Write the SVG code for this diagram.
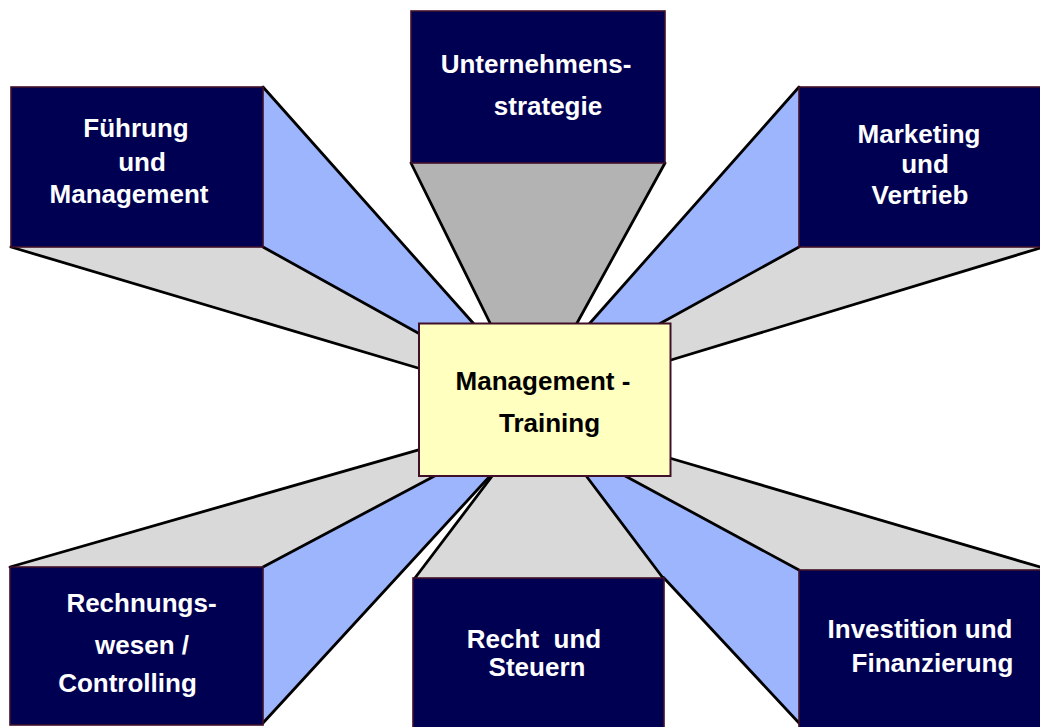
<svg xmlns="http://www.w3.org/2000/svg" width="1040" height="727" viewBox="0 0 1040 727">
<style>
.box{fill:#000052;stroke:#40102a;stroke-width:1.6}
.ctr{fill:#ffffc0;stroke:#40102a;stroke-width:2}
.blue{fill:#9db5fc}
.lg{fill:#d9d9d9}
.dg{fill:#b3b3b3}
.ln{stroke:#000;stroke-width:2.8;fill:none;stroke-linecap:round}
text{font-family:"Liberation Sans",Arial,sans-serif;font-weight:bold;font-size:26px;text-anchor:middle;white-space:pre}
.w{fill:#fff}
.k{fill:#000}
</style>
<rect width="1040" height="727" fill="#fff"/>
<g id="connectors">
  <polygon class="blue" points="263,87 476.6,327 423,335.8 263,247"/>
  <polygon class="lg" points="11,247 263,247 423,335.8 423,369.5"/>
  <polygon class="dg" points="411,163 665,163 574.3,328 492.5,328"/>
  <polygon class="blue" points="799,87 799,247 651.9,328 585.6,328"/>
  <polygon class="lg" points="799,247 1040,247 1040,248 666,361.5 651.9,328"/>
  <polygon class="lg" points="10,567 263,567 444,471 423,448.6"/>
  <polygon class="blue" points="263,567 263,723 494.6,471 444,471"/>
  <polygon class="lg" points="799,570 1040,570 1040,567 666,457 616,471"/>
  <polygon class="blue" points="799,570 799,723 565,471 616,471"/>
  <polygon class="lg" points="413,578 664,578 582.5,471 496,471"/>
  <g class="ln">
    <line x1="263" y1="87" x2="476.6" y2="327"/>
    <line x1="263" y1="247" x2="423" y2="335.8"/>
    <line x1="11" y1="247" x2="423" y2="369.5"/>
    <line x1="411" y1="163" x2="492.5" y2="328"/>
    <line x1="665" y1="163" x2="574.3" y2="328"/>
    <line x1="799" y1="87" x2="585.6" y2="328"/>
    <line x1="799" y1="247" x2="651.9" y2="328"/>
    <line x1="1040" y1="248" x2="666" y2="361.5"/>
    <line x1="10" y1="567" x2="423" y2="448.6"/>
    <line x1="263" y1="567" x2="444" y2="471"/>
    <line x1="263" y1="723" x2="494.6" y2="471"/>
    <line x1="415" y1="578" x2="496" y2="471"/>
    <line x1="663" y1="578" x2="582.5" y2="471"/>
    <line x1="799" y1="570" x2="616" y2="471"/>
    <line x1="1040" y1="567" x2="666" y2="457"/>
    <line x1="799" y1="723" x2="663.5" y2="577.5"/>
  </g>
</g>
<g id="node-fuehrung">
  <rect class="box" x="11" y="87" width="252" height="160"/>
  <text class="w" x="136" y="137">Führung</text>
  <text class="w" x="142" y="170.5">und</text>
  <text class="w" x="129" y="202.5">Management</text>
</g>
<g id="node-strategie">
  <rect class="box" x="411" y="11" width="254" height="152"/>
  <text class="w" x="536" y="73">Unternehmens-</text>
  <text class="w" x="548" y="115">strategie</text>
</g>
<g id="node-marketing">
  <rect class="box" x="799" y="87" width="250" height="160"/>
  <text class="w" x="919" y="143">Marketing</text>
  <text class="w" x="925" y="172.5">und</text>
  <text class="w" x="920" y="204">Vertrieb</text>
</g>
<g id="node-rechnungswesen">
  <rect class="box" x="10" y="567" width="253" height="158"/>
  <text class="w" x="141.5" y="612">Rechnungs-</text>
  <text class="w" x="142" y="654">wesen /</text>
  <text class="w" x="127.5" y="691.5">Controlling</text>
</g>
<g id="node-recht">
  <rect class="box" x="413" y="578" width="251" height="155"/>
  <text class="w" x="534" y="648" xml:space="preserve">Recht  und</text>
  <text class="w" x="537" y="675.5">Steuern</text>
</g>
<g id="node-investition">
  <rect class="box" x="799" y="570" width="250" height="160"/>
  <text class="w" x="920" y="638">Investition und</text>
  <text class="w" x="932.5" y="671.5">Finanzierung</text>
</g>
<g id="node-center">
  <rect class="ctr" x="419" y="323.5" width="251.5" height="152.5"/>
  <text class="k" x="543" y="390">Management -</text>
  <text class="k" x="549.5" y="431.5">Training</text>
</g>
</svg>
